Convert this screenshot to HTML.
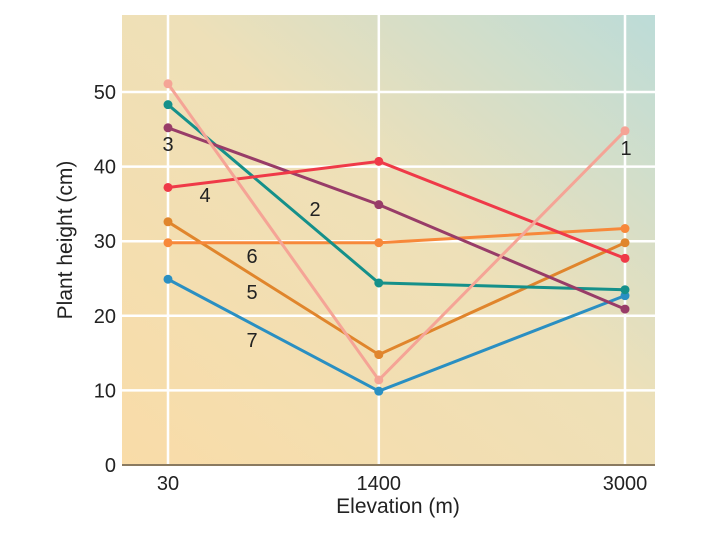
<!DOCTYPE html>
<html><head><meta charset="utf-8"><style>
body{margin:0;background:#fff;}
svg{display:block;font-family:"Liberation Sans",sans-serif;}
</style></head><body>
<svg id="chart" width="720" height="540">
<defs>
<linearGradient id="bg" x1="0" y1="1" x2="1" y2="0">
<stop offset="0" stop-color="#f9dca8"/>
<stop offset="0.55" stop-color="#eee0b8"/>
<stop offset="1" stop-color="#bcdcd8"/>
</linearGradient>
</defs>
<rect x="122" y="15" width="533" height="450" fill="url(#bg)"/>
<g id="grid"></g>
<line x1="122" y1="465" x2="655" y2="465" stroke="#8a7a60" stroke-width="2"/>
<g id="marks"></g>
<g id="labels" font-size="20" fill="#222"></g>
<text x="72" y="240" font-size="21" fill="#222" text-anchor="middle" transform="rotate(-90 72 240)">Plant height (cm)</text>
<text x="398" y="513" font-size="21" fill="#222" text-anchor="middle">Elevation (m)</text>
</svg>
<script>
const elevations = [30, 1400, 3000];
const xTickLabels = ["30", "1400", "3000"];
const yTicks = [0, 10, 20, 30, 40, 50];
const seriesNames = ["1", "2", "3", "4", "5", "6", "7"];
const s1 = [51.1, 11.4, 44.8];
const s2 = [48.3, 24.4, 23.5];
const s3 = [45.2, 34.9, 20.9];
const s4 = [37.2, 40.7, 27.7];
const s5 = [32.6, 14.8, 29.8];
const s6 = [29.8, 29.8, 31.7];
const s7 = [24.9, 9.9, 22.7];
const seriesValues = [s1, s2, s3, s4, s5, s6, s7];
const colors = ["#f5a496", "#15908a", "#983c68", "#ef3a48", "#e0852c", "#f7883a", "#2a8fc2"];
const labelPos = [[626,155],[315,216],[168,151],[205,202],[252,299],[252,263],[252,347]];
const drawOrder = [4,5,6,1,2,3,0];

function xs(v){ return 168 + (v-30)*(457/2970); }
function ys(v){ return 465 - v*7.46; }
const NS="http://www.w3.org/2000/svg";
const grid=document.getElementById('grid');
const marks=document.getElementById('marks');
const labels=document.getElementById('labels');

yTicks.forEach(t=>{
  if(t>0){
    const l=document.createElementNS(NS,'line');
    l.setAttribute('x1',122);l.setAttribute('x2',655);
    l.setAttribute('y1',ys(t));l.setAttribute('y2',ys(t));
    l.setAttribute('stroke','#fff');l.setAttribute('stroke-width','2.5');
    
    
    grid.appendChild(l);
  }
  const tx=document.createElementNS(NS,'text');
  tx.setAttribute('x',116);tx.setAttribute('y',ys(t)+7);
  tx.setAttribute('text-anchor','end');tx.setAttribute('font-size','20');tx.setAttribute('fill','#222');
  tx.textContent=t;
  
  
  grid.appendChild(tx);
});
elevations.forEach((e,i)=>{
  const l=document.createElementNS(NS,'line');
  l.setAttribute('x1',xs(e));l.setAttribute('x2',xs(e));
  l.setAttribute('y1',15);l.setAttribute('y2',465);
  l.setAttribute('stroke','#fff');l.setAttribute('stroke-width','2.5');
  
  
  grid.appendChild(l);
  const tx=document.createElementNS(NS,'text');
  tx.setAttribute('x',xs(e));tx.setAttribute('y',490);
  tx.setAttribute('text-anchor','middle');tx.setAttribute('font-size','20');tx.setAttribute('fill','#222');
  tx.textContent=xTickLabels[i];
  
  
  grid.appendChild(tx);
});
drawOrder.forEach(si=>{
  const vals=seriesValues[si];
  const g=document.createElementNS(NS,'g');
  
  
  const pl=document.createElementNS(NS,'polyline');
  pl.setAttribute('points',vals.map((v,i)=>xs(elevations[i])+','+ys(v)).join(' '));
  pl.setAttribute('fill','none');pl.setAttribute('stroke',colors[si]);pl.setAttribute('stroke-width','3');
  
  
  g.appendChild(pl);
  vals.forEach((v,i)=>{
    const c=document.createElementNS(NS,'circle');
    c.setAttribute('cx',xs(elevations[i]));c.setAttribute('cy',ys(v));c.setAttribute('r',4.5);
    c.setAttribute('fill',colors[si]);
    
    
    g.appendChild(c);
  });
  marks.appendChild(g);
});
seriesNames.forEach((n,i)=>{
  const tx=document.createElementNS(NS,'text');
  tx.setAttribute('x',labelPos[i][0]);tx.setAttribute('y',labelPos[i][1]);
  tx.setAttribute('text-anchor','middle');
  tx.textContent=n;
  
  
  labels.appendChild(tx);
});
</script>
</body></html>
